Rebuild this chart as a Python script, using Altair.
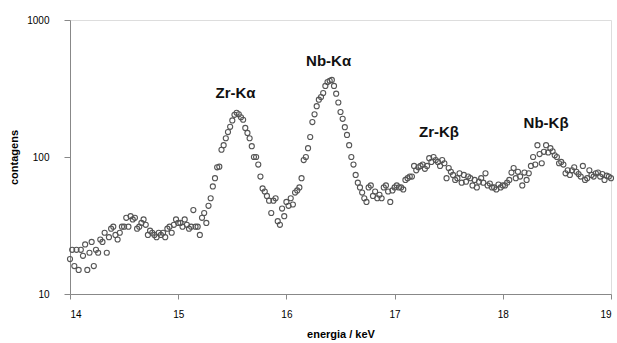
import altair as alt
import pandas as pd

# energy grid: 14.00 .. 19.00 keV in 0.02 keV steps
energy = [round(14.0 + 0.02 * i, 2) for i in range(251)]

counts = [
    # 14.00 - 14.80
    18, 21, 16, 21, 15, 21, 19, 23, 15, 20,
    24, 16, 21, 20, 25, 24, 28, 20, 26, 30,
    31, 27, 25, 28, 31, 31, 36, 31, 37, 35,
    36, 30, 31, 33, 35, 32, 27, 29, 28, 27,
    26,
    # 14.82 - 15.70
    28, 27, 28, 26, 30, 31, 28, 32, 35, 33,
    33, 31, 35, 32, 30, 31, 41, 31, 31, 27,
    36, 39, 33, 44, 50, 61, 70, 84, 85, 113,
    122, 137, 152, 166, 185, 203, 210, 205, 195, 187,
    163, 150, 137, 120, 100,
    # 15.72 - 16.10
    100, 88, 72, 59, 56, 52, 48, 39, 48, 50,
    34, 32, 42, 37, 47, 44, 50, 45, 55, 57,
    # 16.12 - 16.60
    60, 70, 95, 100, 116, 140, 180, 205, 235, 262,
    274, 293, 330, 352, 360, 365, 330, 290, 250, 213,
    190, 165, 145, 122, 100,
    # 16.62 - 17.30
    88, 74, 65, 60, 55, 50, 47, 60, 62, 52,
    56, 50, 53, 50, 60, 62, 56, 47, 57, 60,
    62, 60, 60, 58, 68, 70, 72, 72, 86, 80,
    84, 86, 88, 82, 86,
    # 17.32 - 18.00
    98, 92, 100, 95, 92, 86, 95, 90, 70, 83,
    78, 74, 68, 70, 76, 65, 74, 66, 72, 70,
    62, 68, 60, 66, 70, 65, 76, 62, 64, 60,
    60, 58, 63, 60, 62,
    # 18.02 - 19.00
    62, 65, 68, 77, 83, 70, 78, 72, 62, 77,
    68, 76, 86, 100, 88, 122, 105, 90, 109, 122,
    108, 116, 110, 103, 100, 90, 92, 88, 76, 80,
    74, 80, 84, 78, 75, 72, 86, 68, 70, 80,
    74, 72, 76, 77, 72, 75, 68, 73, 72, 70,
]

labels = ["Zr-Kα", "Nb-Kα", "Zr-Kβ", "Nb-Kβ"]
label_x = [15.53, 16.39, 17.41, 18.40]
label_y = [293, 502, 152, 177]

n = min(len(energy), len(counts))
df = pd.DataFrame({"energy": energy[:n], "counts": counts[:n]})
lab = pd.DataFrame({"energy": label_x, "counts": label_y, "label": labels})

FONT = "Liberation Sans"

x_enc = alt.X(
    "energy:Q",
    scale=alt.Scale(domain=[14, 19], nice=False, zero=False),
    axis=alt.Axis(
        values=[14, 15, 16, 17, 18, 19],
        format="d",
        title="energia / keV",
        grid=False,
        tickSize=5,
        labelPadding=10,
        titlePadding=9,
    ),
)
y_enc = alt.Y(
    "counts:Q",
    scale=alt.Scale(type="log", domain=[10, 1000], nice=False),
    axis=alt.Axis(
        values=[10, 100, 1000],
        format="d",
        title="contagens",
        grid=False,
        tickSize=6,
        labelPadding=15,
        titlePadding=7,
    ),
)

points = alt.Chart(df).mark_point(
    shape="circle", filled=False, size=26, color="#555555", strokeWidth=1.1, opacity=1
).encode(x=x_enc, y=y_enc)

texts = alt.Chart(lab).mark_text(
    font=FONT, fontSize=15, fontWeight="bold", color="#111111", baseline="middle", align="center"
).encode(x="energy:Q", y="counts:Q", text="label:N")

chart = (
    alt.layer(points, texts)
    .properties(
        width=541,
        height=274,
        autosize=alt.AutoSizeParams(type="none"),
        padding={"left": 70, "top": 20, "right": 6, "bottom": 49},
    )
    .configure_view(stroke="#c4c4c4", strokeWidth=1)
    .configure_axis(
        domainColor="#8a8a8a",
        tickColor="#8a8a8a",
        labelFont=FONT,
        labelFontSize=13,
        labelFontWeight="bold",
        labelColor="#111111",
        titleFont=FONT,
        titleFontSize=12,
        titleFontWeight="bold",
        titleColor="#111111",
    )
    .configure(background="white")
)

chart.save("out.html", embed_options={"renderer": "svg", "actions": False})
